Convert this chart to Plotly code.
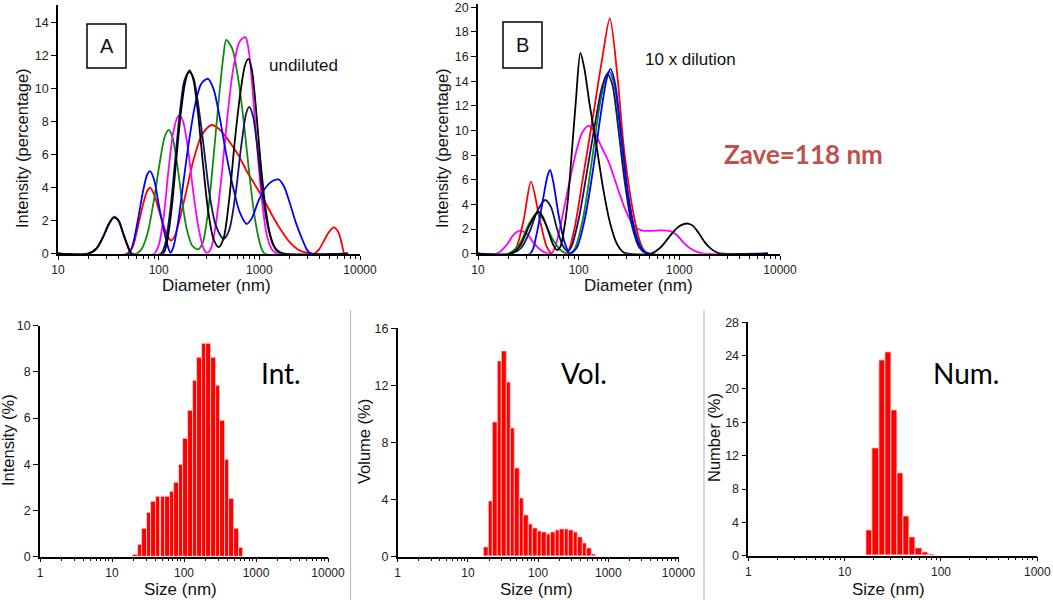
import math
import plotly.graph_objects as go

W, H = 1053, 600

# ---------------- Panel A (undiluted): diameter (nm) / intensity (%) ----------------
A_RED_D = [10, 48, 55, 62, 70, 77, 82, 90, 100, 112, 124, 133, 145, 165, 190, 220, 260, 300, 338, 390, 450, 530,
           630, 750, 900, 1100, 1350, 1650, 2000, 2500, 3000, 3500, 3900, 4400, 4900, 5500, 6100, 6600, 7000, 7600]
A_RED_I = [0, 0, 0.4, 1.6, 3.0, 3.8, 4.0, 3.6, 2.7, 1.7, 1.0, 0.8, 1.1, 2.3, 3.9, 5.6, 7.0, 7.6, 7.8, 7.6, 7.2, 6.6,
           5.9, 5.0, 4.2, 3.3, 2.3, 1.4, 0.7, 0.2, 0.05, 0.0, 0.25, 0.8, 1.3, 1.6, 1.3, 0.6, 0.0, 0.0]

A_GREEN_D = [10, 60, 68, 78, 90, 103, 115, 126, 138, 152, 170, 190, 215, 246, 275, 310, 350, 395, 440, 469, 540,
             620, 700, 790, 880, 980, 1070, 1140, 7600]
A_GREEN_I = [0, 0, 0.3, 1.3, 3.3, 5.6, 7.1, 7.5, 7.0, 5.5, 3.3, 1.5, 0.5, 0.26, 0.7, 2.6, 5.8, 9.3, 12.0, 12.95, 12.4,
             10.5, 8.0, 5.0, 2.6, 1.0, 0.2, 0, 0]

A_MAGENTA_D = [10, 20, 24, 28, 32, 36, 40, 44, 49, 54, 90, 100, 112, 125, 140, 155, 162, 175, 195, 220, 250, 280,
               302, 330, 370, 420, 480, 550, 630, 700, 733, 790, 860, 950, 1050, 1180, 1320, 1500, 7600]
A_MAGENTA_I = [0, 0, 0.3, 1.0, 1.8, 2.24, 2.0, 1.3, 0.5, 0, 0, 0.5, 2.2, 5.0, 7.4, 8.3, 8.36, 8.0, 6.4, 3.8, 1.5, 0.3,
               0.05, 0.3, 1.8, 4.6, 8.2, 11.2, 12.8, 13.1, 13.1, 12.2, 9.8, 6.5, 3.5, 1.2, 0.3, 0, 0]

A_BLUE_D = [10, 50, 55, 62, 70, 77, 82, 90, 100, 112, 124, 131, 140, 155, 175, 200, 230, 265, 309, 350, 400, 470,
            550, 640, 750, 850, 980, 1150, 1350, 1550, 1750, 2000, 2300, 2700, 3000, 3300, 7600]
A_BLUE_I = [0, 0, 0.5, 2.0, 3.8, 4.8, 5.0, 4.5, 3.0, 1.5, 0.4, 0.05, 0.4, 1.8, 4.2, 6.8, 9.0, 10.3, 10.6, 10.0, 8.4,
            6.0, 4.0, 2.5, 1.8, 2.2, 3.2, 4.0, 4.4, 4.5, 4.1, 3.1, 1.9, 0.8, 0.2, 0, 0]

A_NAVY_D = [10, 20, 24, 28, 32, 36, 40, 44, 49, 54, 105, 115, 130, 145, 162, 180, 200, 220, 245, 280, 320, 370, 441,
            500, 580, 660, 740, 794, 860, 950, 1060, 1200, 1380, 1600, 1800, 7600]
A_NAVY_I = [0, 0, 0.3, 1.0, 1.8, 2.2, 2.0, 1.3, 0.5, 0, 0, 0.5, 2.6, 5.5, 8.5, 10.5, 11.0, 10.7, 9.2, 6.5, 3.6, 1.7,
            0.9, 1.4, 3.6, 6.5, 8.5, 8.9, 8.4, 6.6, 4.0, 1.8, 0.5, 0.1, 0, 0]

A_BLACK_D = [10, 20, 24, 28, 32, 36, 40, 44, 49, 54, 110, 120, 135, 150, 168, 185, 202, 220, 245, 275, 310, 350, 394,
             440, 500, 570, 650, 720, 778, 840, 920, 1020, 1150, 1300, 1480, 1700, 7600]
A_BLACK_I = [0, 0, 0.3, 1.0, 1.8, 2.2, 2.0, 1.3, 0.5, 0, 0, 0.6, 2.8, 5.8, 8.8, 10.5, 11.1, 10.6, 8.6, 5.5, 2.6, 0.9,
             0.4, 0.9, 3.2, 6.8, 9.8, 11.4, 11.8, 11.2, 9.0, 5.8, 2.8, 1.0, 0.2, 0, 0]

# ---------------- Panel B (10 x dilution) ----------------
B_RED_D = [10, 22, 28, 33.6, 41, 48, 54, 76, 89, 112, 141, 171, 204, 242, 282, 355, 414, 482, 7600]
B_RED_I = [0, 0, 2.5, 5.85, 2.8, 0.6, 0, 0, 1.7, 6.5, 11.5, 15.8, 19.1, 14.5, 8.5, 3.0, 0.8, 0, 0]

B_MAGENTA_D = [10, 15.3, 19.2, 22.4, 26, 30.4, 35.5, 42, 48, 53, 58, 65, 72, 82, 94, 108, 126, 145, 170, 200, 240,
               290, 350, 420, 520, 650, 800, 950, 1100, 1300, 1550, 1800, 7600]
B_MAGENTA_I = [0, 0, 0.7, 1.5, 1.87, 1.65, 0.9, 0.3, 0.05, 0, 0.5, 2.0, 3.8, 6.0, 8.2, 9.8, 10.4, 9.8, 8.6, 7.4, 5.5,
               3.6, 2.3, 1.9, 1.85, 1.9, 1.85, 1.5, 0.9, 0.4, 0.1, 0, 0]

B_GREEN_D = [10, 20, 26, 32, 38.3, 45, 55, 66, 78, 90, 110, 135, 160, 185, 200, 222, 255, 300, 360, 430, 500, 7600]
B_GREEN_I = [0, 0, 0.8, 2.4, 3.27, 2.7, 1.2, 0.3, 0, 0.3, 2.8, 7.5, 11.8, 14.3, 14.8, 14.0, 10.5, 5.5, 2.0, 0.4, 0, 0]

B_NAVY_D = [10, 21, 27, 33, 39, 46.4, 53, 61, 70, 78, 85, 100, 120, 145, 170, 192, 215, 245, 285, 340, 400, 480, 7600]
B_NAVY_I = [0, 0, 0.5, 1.9, 3.5, 4.36, 3.8, 2.0, 0.6, 0.2, 0.6, 2.8, 6.5, 10.5, 13.5, 14.6, 13.8, 10.5, 6.0, 2.2,
            0.5, 0, 0]

B_BLUE_D = [10, 32.9, 38, 44, 49, 52, 56, 63, 72, 82, 96, 115, 140, 165, 190, 207, 230, 265, 310, 370, 430, 500, 7600]
B_BLUE_I = [0, 0, 1.5, 4.3, 6.3, 6.8, 5.8, 3.2, 1.0, 0, 0.5, 2.8, 7.0, 11.2, 14.2, 15.0, 13.8, 9.6, 4.8, 1.5, 0.3,
            0, 0]

B_BLACK_D = [10, 21, 26, 32, 38, 40, 44, 50, 56, 61, 66, 71, 78, 86, 94, 104, 114, 128, 150, 175, 205, 240, 280, 316,
             520, 650, 800, 950, 1100, 1212, 1350, 1550, 1800, 2100, 2450, 2700, 7600]
B_BLACK_I = [0, 0, 0.6, 2.2, 3.3, 3.4, 3.0, 1.8, 0.7, 0.3, 0.6, 1.8, 4.3, 8.5, 12.5, 16.3, 15.0, 12.2, 8.8, 5.3, 2.5,
             0.8, 0.1, 0, 0, 0.5, 1.4, 2.1, 2.4, 2.45, 2.3, 1.7, 0.9, 0.35, 0.05, 0, 0]

# ---------------- Histograms (size classes in nm) ----------------
INT_SIZE = [21.04, 24.36, 28.21, 32.67, 37.84, 43.82, 50.75, 58.77, 68.06, 78.82, 91.28, 105.7, 122.4, 141.8,
            164.2, 190.1, 220.2, 255.0, 295.3, 342.0, 396.1, 458.7, 531.2, 615.1]
INT_PCT = [0.1, 0.5, 1.2, 1.9, 2.4, 2.6, 2.6, 2.6, 2.8, 3.2, 4.0, 5.1, 6.3, 7.6, 8.6, 9.2, 9.2, 8.6, 7.4, 5.9, 4.2,
           2.5, 1.2, 0.4]

VOL_SIZE = [18.17, 21.04, 24.36, 28.21, 32.67, 37.84, 43.82, 50.75, 58.77, 68.06, 78.82, 91.28, 105.7, 122.4,
            141.8, 164.2, 190.1, 220.2, 255.0, 295.3, 342.0, 396.1, 458.7, 531.2, 615.1]
VOL_PCT = [0.68, 3.88, 9.39, 13.69, 14.39, 12.2, 9.0, 6.19, 4.07, 2.87, 2.27, 1.99, 1.8, 1.71, 1.59, 1.73, 1.85,
           1.89, 1.89, 1.82, 1.68, 1.38, 0.96, 0.61, 0.19]

NUM_SIZE = [18.17, 21.04, 24.36, 28.21, 32.67, 37.84, 43.82, 50.75, 58.77, 68.06, 78.82]
NUM_PCT = [3.0, 12.9, 23.4, 24.4, 17.5, 9.9, 4.76, 2.16, 0.84, 0.4, 0.16]

# tick labels
TOP_XTICKS = [10, 100, 1000, 10000]
BOT_XTICKS4 = [1, 10, 100, 1000, 10000]
BOT_XTICKS3 = [1, 10, 100, 1000]

FONT = "Liberation Sans, Arial, sans-serif"


def px(x):
    return x / W


def py(y):
    return 1 - y / H


fig = go.Figure()

curves_A = [(A_RED_D, A_RED_I, "#ff0000"), (A_GREEN_D, A_GREEN_I, "#108a10"),
            (A_MAGENTA_D, A_MAGENTA_I, "#ff00ff"), (A_BLUE_D, A_BLUE_I, "#0000ff"),
            (A_NAVY_D, A_NAVY_I, "#141464"), (A_BLACK_D, A_BLACK_I, "#000000")]
curves_B = [(B_MAGENTA_D, B_MAGENTA_I, "#ff00ff"), (B_RED_D, B_RED_I, "#ff0000"),
            (B_GREEN_D, B_GREEN_I, "#108a10"), (B_NAVY_D, B_NAVY_I, "#141464"),
            (B_BLUE_D, B_BLUE_I, "#0000ff"), (B_BLACK_D, B_BLACK_I, "#000000")]

for d, v, c in curves_A:
    fig.add_trace(go.Scatter(x=d, y=v, mode="lines", xaxis="x", yaxis="y", showlegend=False,
                             line=dict(color=c, width=1.8, shape="spline", smoothing=0.8), hoverinfo="skip"))
for d, v, c in curves_B:
    fig.add_trace(go.Scatter(x=d, y=v, mode="lines", xaxis="x2", yaxis="y2", showlegend=False,
                             line=dict(color=c, width=1.8, shape="spline", smoothing=0.8), hoverinfo="skip"))


def add_bars(sizes, vals, xa, ya):
    r = math.sqrt(sizes[1] / sizes[0])
    offs = [s / r - s for s in sizes]
    wid = [s * r - s / r for s in sizes]
    fig.add_trace(go.Bar(x=sizes, y=vals, offset=offs, width=wid, xaxis=xa, yaxis=ya, showlegend=False,
                         marker=dict(color="#ff0000", line=dict(color="#ffd0d0", width=0.8)), hoverinfo="skip"))


add_bars(INT_SIZE, INT_PCT, "x3", "y3")
add_bars(VOL_SIZE, VOL_PCT, "x4", "y4")
add_bars(NUM_SIZE, NUM_PCT, "x5", "y5")


def xax(x0, x1, y_anchor, rng, vals, lw, fs):
    return dict(domain=[px(x0), px(x1)], anchor=y_anchor, type="log", range=rng, tickmode="array",
                tickvals=vals, ticktext=[str(v) for v in vals], ticks="outside", ticklen=4, tickwidth=1.3,
                tickcolor="black", showline=True, linecolor="black", linewidth=lw, showgrid=False,
                zeroline=False, automargin=False, tickfont=dict(family=FONT, size=fs, color="#222"),
                minor=dict(ticks="outside", ticklen=3, tickwidth=1, tickcolor="black", dtick="D1",
                           showgrid=False),
                fixedrange=True)


def yax(y0, y1, x_anchor, rng, dt, lw, fs):
    return dict(domain=[py(y0), py(y1)], anchor=x_anchor, range=rng, tickmode="linear", tick0=0, dtick=dt,
                ticks="outside", ticklen=5, tickwidth=1.3, tickcolor="black", showline=True, linecolor="black",
                linewidth=lw, showgrid=False, zeroline=False, automargin=False,
                tickfont=dict(family=FONT, size=fs, color="#222"), fixedrange=True)


fig.update_layout(
    width=W, height=H, autosize=False, margin=dict(l=0, r=0, t=0, b=0, pad=0),
    paper_bgcolor="white", plot_bgcolor="rgba(0,0,0,0)", bargap=0, showlegend=False,
    xaxis=xax(58, 360, "y", [1, 4], TOP_XTICKS, 1.8, 12),
    yaxis=yax(253.7, 5.0, "x", [0, 15.07], 2, 1.8, 12.5),
    xaxis2=xax(478, 780, "y2", [1, 4], TOP_XTICKS, 1.8, 12),
    yaxis2=yax(253.7, 4.0, "x2", [0, 20.27], 2, 1.8, 12.5),
    xaxis3=xax(40, 328, "y3", [0, 4], BOT_XTICKS4, 1.5, 12),
    yaxis3=yax(556.7, 325.7, "x3", [0, 10], 2, 1.5, 12.5),
    xaxis4=xax(397.7, 678.5, "y4", [0, 4], BOT_XTICKS4, 1.5, 12),
    yaxis4=yax(556.7, 328.3, "x4", [0, 16], 4, 1.5, 12.5),
    xaxis5=xax(748.3, 1037.3, "y5", [0, 3], BOT_XTICKS3, 1.5, 12),
    yaxis5=yax(555.7, 322.3, "x5", [0, 28], 4, 1.5, 12.5),
)


def note(text, x, y, size, color="#111", angle=0, family=FONT, bold=False):
    fig.add_annotation(text=f"<b>{text}</b>" if bold else text, x=px(x), y=py(y), xref="paper", yref="paper",
                       showarrow=False, textangle=angle, xanchor="center", yanchor="middle",
                       font=dict(family=family, size=size, color=color))


note("A", 106.5, 46, 20)
note("B", 522.5, 45, 20)
note("undiluted", 303, 66, 17)
note("10 x dilution", 690, 59, 17)
note("Zave=118 nm", 803, 154, 26, color="#c0504d", family="Lato, sans-serif", bold=True)
note("Intensity (percentage)", 22, 148, 16.5, angle=-90)
note("Intensity (percentage)", 442, 148, 16.5, angle=-90)
note("Diameter (nm)", 217, 285, 17)
note("Diameter (nm)", 638, 285, 17)
note("Int.", 281, 373, 28, color="#000", family="Lato, sans-serif")
note("Vol.", 584, 373, 28, color="#000", family="Lato, sans-serif")
note("Num.", 966, 373, 28, color="#000", family="Lato, sans-serif")
note("Intensity (%)", 8, 440, 16.5, angle=-90)
note("Volume (%)", 364, 442, 16.5, angle=-90)
note("Number (%)", 714, 438, 16.5, angle=-90)
note("Size (nm)", 180, 589, 17)
note("Size (nm)", 536, 589, 17)
note("Size (nm)", 888, 589, 17)

shapes = [
    dict(type="rect", xref="paper", yref="paper", x0=px(87), x1=px(126), y0=py(68), y1=py(24),
         line=dict(color="black", width=1.5)),
    dict(type="rect", xref="paper", yref="paper", x0=px(503), x1=px(542), y0=py(68), y1=py(22),
         line=dict(color="black", width=1.5)),
    dict(type="line", xref="paper", yref="paper", x0=px(350.5), x1=px(350.5), y0=py(310), y1=py(600),
         line=dict(color="#bdbdbd", width=1.2)),
    dict(type="line", xref="paper", yref="paper", x0=px(704), x1=px(704), y0=py(310), y1=py(600),
         line=dict(color="#bdbdbd", width=1.2)),
]
fig.update_layout(shapes=shapes)

fig.write_html("out.html", config={"displayModeBar": False},
               post_script="document.body.style.margin='0px';document.body.style.overflow='hidden';")
